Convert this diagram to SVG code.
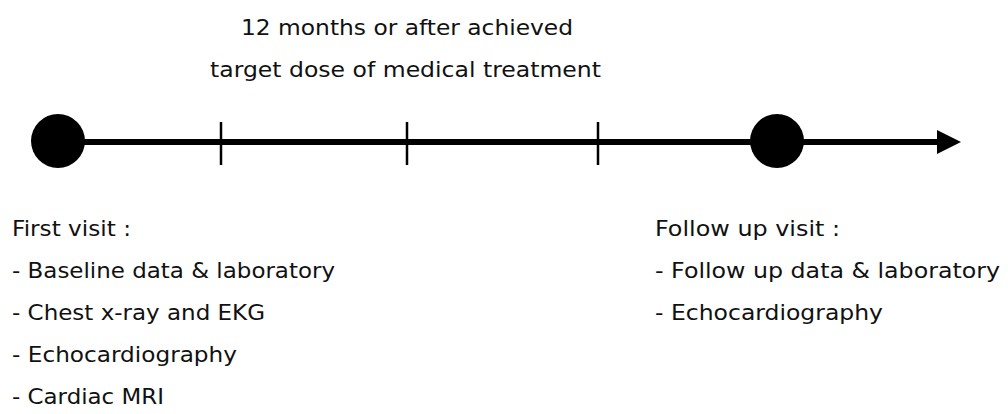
<svg xmlns="http://www.w3.org/2000/svg" width="1008" height="414" viewBox="0 0 1008 414">
<style>
text{font-family:"DejaVu Sans","Noto Sans","Liberation Sans",sans-serif;font-size:21px;fill:#111}
</style>
<defs>
<marker id="ah" markerUnits="userSpaceOnUse" markerWidth="26" markerHeight="26" refX="0" refY="12" orient="auto">
<path d="M0,0 L24,12 L0,24 Z" fill="#000"/>
</marker>
</defs>
<rect width="1008" height="414" fill="#fff"/>
<g id="connectors">
<line x1="58" y1="142" x2="937" y2="142" stroke="#000" stroke-width="6" marker-end="url(#ah)"/>
<line x1="221" y1="122" x2="221" y2="165" stroke="#000" stroke-width="2.5"/>
<line x1="407" y1="122" x2="407" y2="165" stroke="#000" stroke-width="2.5"/>
<line x1="598" y1="122" x2="598" y2="165" stroke="#000" stroke-width="2.5"/>
</g>
<g id="start"><circle cx="58" cy="141" r="27" fill="#000"/></g>
<g id="end"><circle cx="777" cy="141" r="27" fill="#000"/></g>
<g id="period">
<text x="241" y="35" textLength="332" lengthAdjust="spacingAndGlyphs">12 months or after achieved</text>
<text x="210" y="77" textLength="391" lengthAdjust="spacingAndGlyphs">target dose of medical treatment</text>
</g>
<g id="first-visit">
<text x="12" y="236" textLength="119" lengthAdjust="spacingAndGlyphs">First visit :</text>
<text x="12" y="278" textLength="323" lengthAdjust="spacingAndGlyphs">- Baseline data &amp; laboratory</text>
<text x="12" y="320" textLength="253" lengthAdjust="spacingAndGlyphs">- Chest x-ray and EKG</text>
<text x="12" y="362" textLength="225" lengthAdjust="spacingAndGlyphs">- Echocardiography</text>
<text x="12" y="404" textLength="152" lengthAdjust="spacingAndGlyphs">- Cardiac MRI</text>
</g>
<g id="follow-up">
<text x="655" y="236" textLength="185" lengthAdjust="spacingAndGlyphs">Follow up visit :</text>
<text x="655" y="278" textLength="345" lengthAdjust="spacingAndGlyphs">- Follow up data &amp; laboratory</text>
<text x="655" y="320" textLength="228" lengthAdjust="spacingAndGlyphs">- Echocardiography</text>
</g>
</svg>
